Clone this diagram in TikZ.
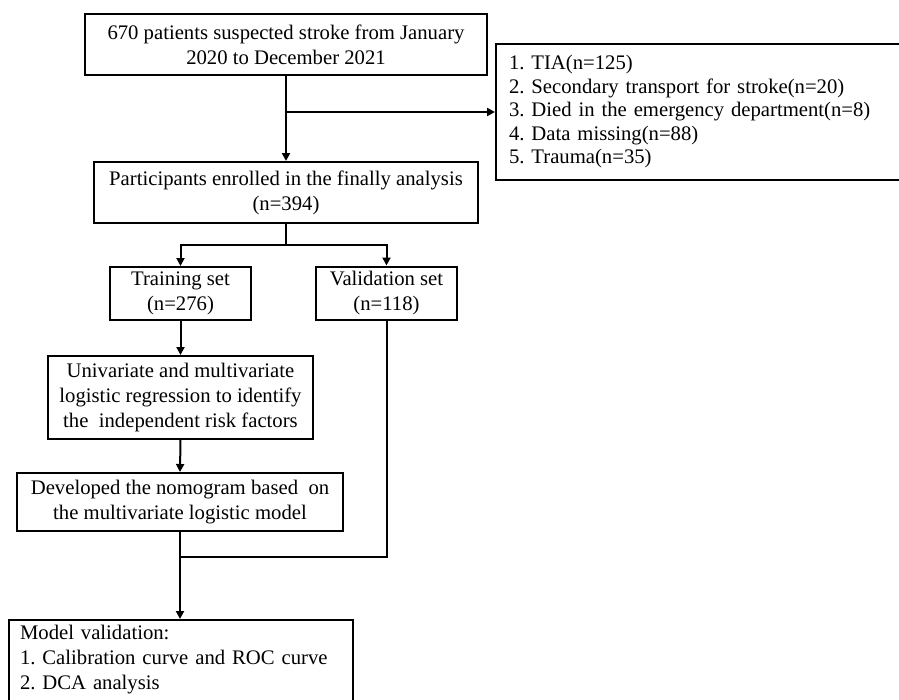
\documentclass[tikz,border=0pt]{standalone}
\usepackage{fontspec}
\setmainfont{Liberation Serif}
\usetikzlibrary{arrows.meta}
\frenchspacing
\begin{document}
\begin{tikzpicture}[x=1pt,y=-1pt,
  every node/.style={font=\fontsize{20.7}{25}\selectfont},
  box/.style={draw,line width=2pt,rectangle,align=center,inner sep=0pt},
  lbox/.style={draw,line width=2pt,rectangle,align=left,inner ysep=0pt},
  conn/.style={line width=2pt},
  arr/.style={line width=2pt,-{Triangle[length=8pt,width=8pt]}}]
\useasboundingbox (0,0) rectangle (899,699);
\clip (0,0) rectangle (899,699);
\node[box,minimum width=402,minimum height=61] (b1) at (286,44.5)
  {670 patients suspected stroke from January\\2020 to December 2021};
\node[box,minimum width=384,minimum height=61] (b2) at (286,192.5)
  {Participants enrolled in the finally analysis\\(n=394)};
\node[lbox,inner xsep=13,text width=389,minimum height=136,anchor=west,
  font=\fontsize{20.7}{23.5}\selectfont] (ex) at (495,112)
  {1. TIA(n=125)\\2. Secondary transport for stroke(n=20)\\3. Died in the emergency department(n=8)\\4. Data missing(n=88)\\5. Trauma(n=35)};
\node[box,minimum width=141,minimum height=53] (tr) at (180.5,293.5)
  {Training set\\(n=276)};
\node[box,minimum width=141,minimum height=53] (va) at (386.5,293)
  {Validation set\\(n=118)};
\node[box,minimum width=265,minimum height=83] (uv) at (180.5,397.5)
  {Univariate and multivariate\\logistic regression to identify\\the\ \ independent risk factors};
\node[box,minimum width=326,minimum height=58] (dv) at (180,502)
  {Developed the nomogram based\ \ on\\the multivariate logistic model};
\node[lbox,inner xsep=11,inner ysep=5,text width=322,anchor=north west] (mv) at (8,619)
  {Model validation:\\1. Calibration curve and ROC curve\\2. DCA analysis\\\mbox{}};
\coordinate (c1) at (b1.south |- ex.west);
\coordinate (c2) at (286,245);
\coordinate (c3) at (dv.south |- 0,557);
\draw[arr] (b1.south) -- (b2.north);
\draw[arr] (c1) -- (ex.west);
\draw[conn] (b2.south) -- (c2);
\draw[arr] (c2) -| (tr.north);
\draw[arr] (c2) -| (va.north);
\draw[arr] (tr.south) -- (uv.north);
\draw[arr] (uv.south) -- (dv.north);
\draw[conn] (va.south) |- (c3);
\draw[arr] (dv.south) -- (mv.north -| dv.south);
\end{tikzpicture}
\end{document}
